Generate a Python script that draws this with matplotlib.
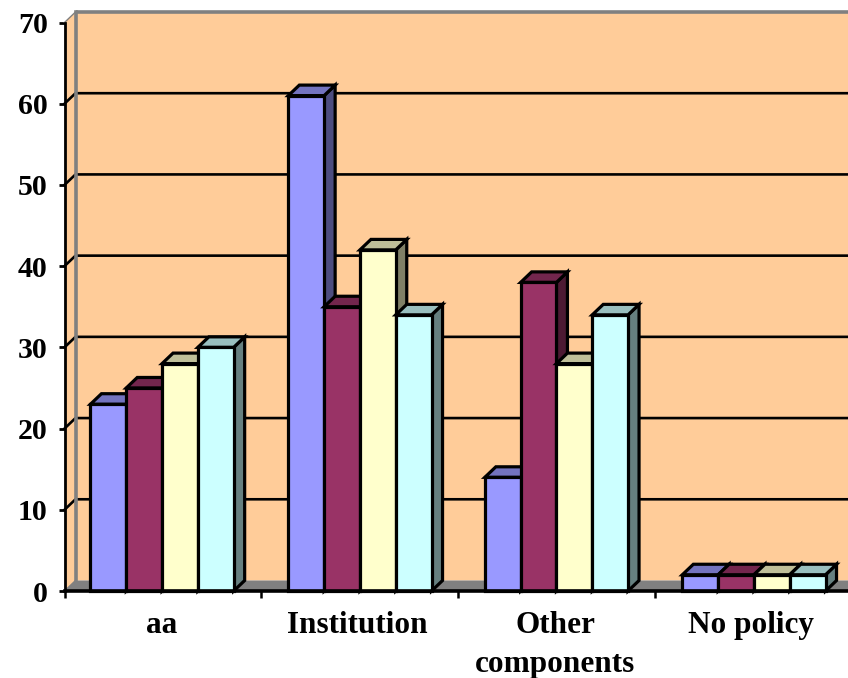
import matplotlib
matplotlib.use("Agg")
import matplotlib.pyplot as plt
from matplotlib.colors import to_rgb
from matplotlib.patches import Polygon

plt.rcParams['font.family'] = ['Liberation Serif', 'DejaVu Serif']
plt.rcParams['font.weight'] = 'bold'

categories = ['aa', 'Institution', 'Other\ncomponents', 'No policy']
series_a = [23, 61, 14, 2]
series_b = [25, 35, 38, 2]
series_c = [28, 42, 28, 2]
series_d = [30, 34, 34, 2]
series = [series_a, series_b, series_c, series_d]
colors = ['#9999FF', '#993366', '#FFFFCC', '#CCFFFF']
y_ticks = [0, 10, 20, 30, 40, 50, 60, 70]

W, H = 848, 678
LEFT, RIGHT, BOTTOM, TOP = 64.5, 848, 591, 22.5
CAT_PX = 196.7
BAR_W = 0.182
DX = 11 / CAT_PX                      # depth of the fake 3d, in data units
DY = 10.5 / ((BOTTOM - TOP) / 70)
group_centers = [0.496, 1.502, 2.501, 3.505]


def shade(color, factor):
    return tuple(c * factor for c in to_rgb(color))


def draw_bar(ax, x, h, color):
    """front, top and side face of one box"""
    side = [(x + BAR_W, 0), (x + BAR_W + DX, DY), (x + BAR_W + DX, h + DY), (x + BAR_W, h)]
    top = [(x, h), (x + DX, h + DY), (x + BAR_W + DX, h + DY), (x + BAR_W, h)]
    front = [(x, 0), (x + BAR_W, 0), (x + BAR_W, h), (x, h)]
    for pts, f in [(side, 0.5), (top, 0.75), (front, 1.0)]:
        ax.add_patch(Polygon(pts, closed=True, facecolor=shade(color, f), edgecolor='black',
                             linewidth=2.3, joinstyle='miter', clip_on=False, zorder=3))


fig = plt.figure(figsize=(W / 100, H / 100), dpi=100)
ax = fig.add_axes([LEFT / W, 1 - BOTTOM / H, (RIGHT - LEFT) / W, (BOTTOM - TOP) / H])
xmax = (RIGHT - LEFT) / CAT_PX
ax.set_xlim(0, xmax)
ax.set_ylim(0, 70)
ax.patch.set_visible(False)

# walls and floor
wall = '#FFCC99'
ax.add_patch(Polygon([(0, 0), (DX, DY), (xmax, DY), (xmax, 70 + DY), (DX, 70 + DY), (0, 70)],
                     closed=True, facecolor=wall, edgecolor='none', clip_on=False, zorder=0))
ax.add_patch(Polygon([(0, 0), (DX, DY), (xmax, DY), (xmax, 0)],
                     closed=True, facecolor='#808080', edgecolor='none', clip_on=False, zorder=1))

# gridlines run across the back wall, with a short diagonal on the side wall
for v in y_ticks[1:-1]:
    ax.plot([0, DX, xmax], [v, v + DY, v + DY], color='black', lw=1.9, clip_on=False, zorder=1)
ax.plot([DX, xmax], [70 + DY, 70 + DY], color='#808080', lw=2.6, clip_on=False, zorder=2,
        solid_capstyle='butt')
ax.plot([0, DX], [70, 70 + DY], color='#808080', lw=1, clip_on=False, zorder=2)
ax.plot([0, DX], [0, DY], color='#808080', lw=1, clip_on=False, zorder=2)
ax.plot([DX, DX], [DY, 70 + DY], color='#808080', lw=2.6, clip_on=False, zorder=2)

for i, center in enumerate(group_centers):
    for j, values in enumerate(series):
        draw_bar(ax, center - 2 * BAR_W + j * BAR_W, values[i], colors[j])

for side in ['top', 'right']:
    ax.spines[side].set_visible(False)
ax.spines['left'].set_linewidth(2)
ax.spines['bottom'].set_linewidth(2.6)
ax.spines['bottom'].set_zorder(4)

ax.set_yticks(y_ticks)
ax.tick_params(axis='y', length=4.5, width=2, pad=7.5, labelsize=21.5)
ax.set_xticks([0, 1, 2, 3])
ax.set_xticklabels([])
ax.tick_params(axis='x', which='major', length=5, width=1.8)
ax.set_xticks([0.495, 1.487, 2.495, 3.49], minor=True)
ax.set_xticklabels(categories, minor=True, fontsize=22.5, linespacing=1.46)
ax.tick_params(axis='x', which='minor', length=0, pad=14.5)

fig.savefig('out.png', dpi=100)
